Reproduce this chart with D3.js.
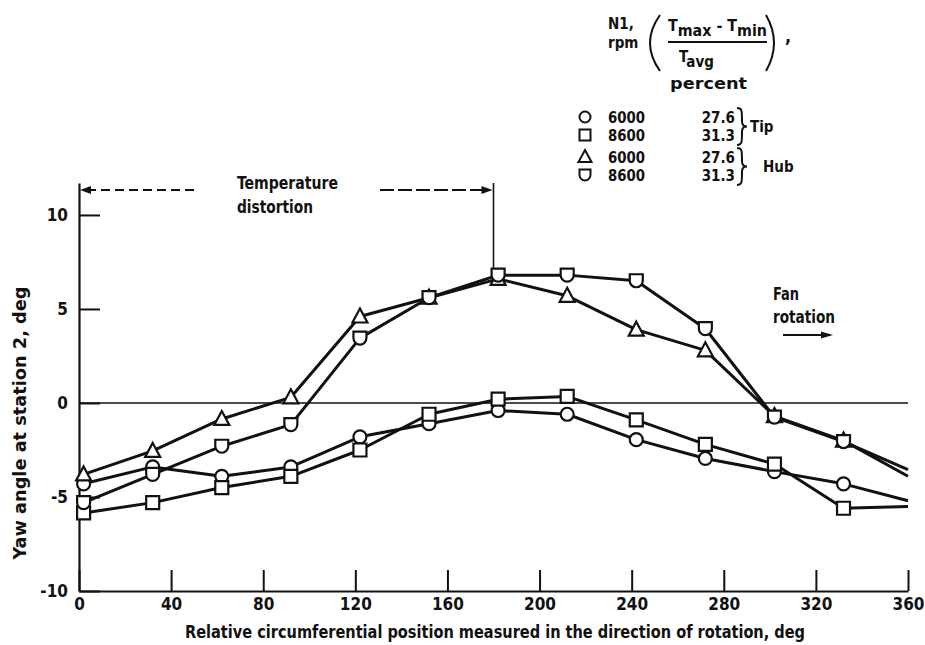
<!DOCTYPE html>
<html>
<head>
<meta charset="utf-8">
<script src="https://cdn.jsdelivr.net/npm/d3@7"></script>
<style>
	body { margin: 0; background: #fff; }
	svg text { font-family: 'DejaVu Sans Condensed', 'DejaVu Sans', sans-serif; font-weight: bold; fill: #111; }
</style>
</head>
<body>
<svg id="chart"></svg>
<script>
// circumferential positions, deg (last point is the line end, no symbol)
const angles = [2, 32, 62, 92, 122, 152, 182, 212, 242, 272, 302, 332, 360];
const tip6000 = [-4.3, -3.4, -3.9, -3.4, -1.8, -1.1, -0.4, -0.6, -1.95, -2.95, -3.65, -4.3, -5.2];
const tip8600 = [-5.85, -5.3, -4.5, -3.9, -2.5, -0.6, 0.2, 0.35, -0.9, -2.2, -3.25, -5.6, -5.5];
const hub6000 = [-3.8, -2.55, -0.85, 0.3, 4.6, 5.6, 6.6, 5.7, 3.9, 2.8, -0.7, -2.0, -3.9];
const hub8600 = [-5.3, -3.8, -2.3, -1.15, 3.45, 5.6, 6.8, 6.8, 6.5, 3.95, -0.75, -2.05, -3.55];

const xTicks = [0, 40, 80, 120, 160, 200, 240, 280, 320, 360];
const yTicks = [-10, -5, 0, 5, 10];

const legendRpm = ['6000', '8600', '6000', '8600'];
const legendPct = ['27.6', '31.3', '27.6', '31.3'];
const legendGroups = ['Tip', 'Hub'];

const series = [
	{ name: 'tip6000', values: tip6000, symbol: 'circle' },
	{ name: 'tip8600', values: tip8600, symbol: 'square' },
	{ name: 'hub6000', values: hub6000, symbol: 'triangle' },
	{ name: 'hub8600', values: hub8600, symbol: 'cup' }
];

const svg = d3.select('#chart')
	.attr('width', 925)
	.attr('height', 645);

const x = d3.scaleLinear().domain([0, 360]).range([79, 908]);
const y = d3.scaleLinear().domain([-10, 11.7]).range([591, 183]);

const symbolPath = (type, s) => {
	if (type === 'circle') return `M${-s},0A${s},${s} 0 1 0 ${s},0A${s},${s} 0 1 0 ${-s},0Z`;
	if (type === 'square') return `M${-s},${-s}H${s}V${s}H${-s}Z`;
	if (type === 'triangle') return `M0,${-s - 1.5}L${s + 1},${s - 0.5}H${-s - 1}Z`;
	return `M${-s},${-s}H${s}V0A${s},${s} 0 0 1 ${-s},0Z`;
};

// axes
const xAxis = svg.append('g')
	.attr('transform', `translate(0,${y(-10)})`)
	.call(d3.axisBottom(x).tickValues(xTicks).tickSizeInner(-21).tickSizeOuter(0).tickPadding(7).tickFormat(d => String(d)));
const yAxis = svg.append('g')
	.attr('transform', `translate(${x(0)},0)`)
	.call(d3.axisLeft(y).tickValues(yTicks).tickSizeInner(-21).tickSizeOuter(0).tickPadding(11).tickFormat(d => String(d)));

[xAxis, yAxis].forEach(a => {
	a.selectAll('path.domain').attr('stroke', '#111').attr('stroke-width', 2.2);
	a.selectAll('.tick line').attr('stroke', '#111').attr('stroke-width', 2);
	a.selectAll('.tick text').attr('font-size', 17).attr('fill', '#111')
		.style('font-family', "'DejaVu Sans Condensed', sans-serif").style('font-weight', 'bold');
});

// zero line
svg.append('line')
	.attr('x1', x(0)).attr('x2', x(360))
	.attr('y1', y(0)).attr('y2', y(0))
	.attr('stroke', '#111').attr('stroke-width', 1.6);

// axis titles
svg.append('text')
	.attr('x', 495).attr('y', 638)
	.attr('text-anchor', 'middle')
	.attr('font-size', 17)
	.attr('textLength', 620).attr('lengthAdjust', 'spacingAndGlyphs')
	.text('Relative circumferential position measured in the direction of rotation, deg');
svg.append('text')
	.attr('transform', 'translate(26,423) rotate(-90)')
	.attr('text-anchor', 'middle')
	.attr('font-size', 17)
	.attr('textLength', 273).attr('lengthAdjust', 'spacingAndGlyphs')
	.text('Yaw angle at station 2, deg');

// data lines
const line = d3.line()
	.x((d, i) => x(angles[i]))
	.y(d => y(d));
svg.append('g').selectAll('path')
	.data(series)
	.join('path')
		.attr('d', d => line(d.values))
		.attr('fill', 'none')
		.attr('stroke', '#111')
		.attr('stroke-width', 3)
		.attr('stroke-linejoin', 'round');

// symbols (not on the end point)
series.forEach(s => {
	svg.append('g').selectAll('path')
		.data(s.values.slice(0, -1))
		.join('path')
			.attr('transform', (d, i) => `translate(${x(angles[i])},${y(d)})`)
			.attr('d', symbolPath(s.symbol, 6.5))
			.attr('fill', '#fff')
			.attr('stroke', '#111')
			.attr('stroke-width', 2.2);
});

// temperature distortion annotation
const arrowY = 190;
svg.append('line')
	.attr('x1', x(0) + 8).attr('x2', 198).attr('y1', arrowY).attr('y2', arrowY)
	.attr('stroke', '#111').attr('stroke-width', 2).attr('stroke-dasharray', '9,5');
svg.append('line')
	.attr('x1', 380).attr('x2', x(180) - 8).attr('y1', arrowY).attr('y2', arrowY)
	.attr('stroke', '#111').attr('stroke-width', 2).attr('stroke-dasharray', '14,4');
svg.append('path')
	.attr('d', `M${x(0) + 1},${arrowY}l11,-4v8Z`).attr('fill', '#111');
svg.append('path')
	.attr('d', `M${x(180) - 1},${arrowY}l-11,-4v8Z`).attr('fill', '#111');
svg.append('line')
	.attr('x1', x(180)).attr('x2', x(180)).attr('y1', 183).attr('y2', 268)
	.attr('stroke', '#111').attr('stroke-width', 1.6);
svg.append('text').attr('x', 237).attr('y', 189).attr('font-size', 17)
	.attr('textLength', 101).attr('lengthAdjust', 'spacingAndGlyphs').text('Temperature');
svg.append('text').attr('x', 237).attr('y', 213).attr('font-size', 17)
	.attr('textLength', 76).attr('lengthAdjust', 'spacingAndGlyphs').text('distortion');

// fan rotation
svg.append('text').attr('x', 773).attr('y', 300).attr('font-size', 17)
	.attr('textLength', 26).attr('lengthAdjust', 'spacingAndGlyphs').text('Fan');
svg.append('text').attr('x', 773).attr('y', 323).attr('font-size', 17)
	.attr('textLength', 62).attr('lengthAdjust', 'spacingAndGlyphs').text('rotation');
svg.append('line')
	.attr('x1', 783).attr('x2', 824).attr('y1', 335).attr('y2', 335)
	.attr('stroke', '#111').attr('stroke-width', 2);
svg.append('path').attr('d', 'M833,335l-12,-3.5v7Z').attr('fill', '#111');

// legend header
const legend = svg.append('g');
legend.append('text').attr('x', 608).attr('y', 29).attr('font-size', 15).text('N1,');
legend.append('text').attr('x', 608).attr('y', 48).attr('font-size', 15).text('rpm');
legend.append('path')
	.attr('d', 'M660,15Q640,43 660,71')
	.attr('fill', 'none').attr('stroke', '#111').attr('stroke-width', 2);
legend.append('path')
	.attr('d', 'M766,15Q782,43 766,71')
	.attr('fill', 'none').attr('stroke', '#111').attr('stroke-width', 2);
const num = legend.append('text').attr('x', 668).attr('y', 31).attr('font-size', 15)
	.attr('textLength', 99).attr('lengthAdjust', 'spacingAndGlyphs');
num.append('tspan').text('T');
num.append('tspan').attr('dy', 5).text('max');
num.append('tspan').attr('dy', -5).text(' - T');
num.append('tspan').attr('dy', 5).text('min');
legend.append('line')
	.attr('x1', 668).attr('x2', 767).attr('y1', 42).attr('y2', 42)
	.attr('stroke', '#111').attr('stroke-width', 2);
const den = legend.append('text').attr('x', 679).attr('y', 62).attr('font-size', 15);
den.append('tspan').text('T');
den.append('tspan').attr('dy', 5).text('avg');
legend.append('text').attr('x', 785).attr('y', 42).attr('font-size', 18).text(',');
legend.append('text').attr('x', 670).attr('y', 89).attr('font-size', 15)
	.attr('textLength', 77).attr('lengthAdjust', 'spacingAndGlyphs').text('percent');

// legend rows
const rowY = [117, 135, 157, 175];
series.forEach((s, i) => {
	legend.append('path')
		.attr('transform', `translate(585,${rowY[i]})`)
		.attr('d', symbolPath(s.symbol, 5.5))
		.attr('fill', '#fff').attr('stroke', '#111').attr('stroke-width', 2);
	legend.append('text').attr('x', 608).attr('y', rowY[i] + 5.5).attr('font-size', 15)
		.attr('textLength', 37).attr('lengthAdjust', 'spacingAndGlyphs').text(legendRpm[i]);
	legend.append('text').attr('x', 735).attr('y', rowY[i] + 5.5).attr('font-size', 15)
		.attr('text-anchor', 'end').text(legendPct[i]);
});
legendGroups.forEach((g, k) => {
	const y0 = rowY[k * 2] - 9, y1 = rowY[k * 2 + 1] + 10, ym = (y0 + y1) / 2;
	const bx = 737;
	legend.append('path')
		.attr('d', `M${bx},${y0}C${bx + 5},${y0} ${bx + 5},${y0 + 2} ${bx + 5},${ym - 5}C${bx + 5},${ym - 1} ${bx + 7},${ym} ${bx + 10},${ym}C${bx + 7},${ym} ${bx + 5},${ym + 1} ${bx + 5},${ym + 5}C${bx + 5},${y1 - 2} ${bx + 5},${y1} ${bx},${y1}`)
		.attr('fill', 'none').attr('stroke', '#111').attr('stroke-width', 2);
	legend.append('text').attr('x', k === 0 ? 750 : 763).attr('y', ym + 5.5).attr('font-size', 15).text(g);
});
</script>
</body>
</html>
